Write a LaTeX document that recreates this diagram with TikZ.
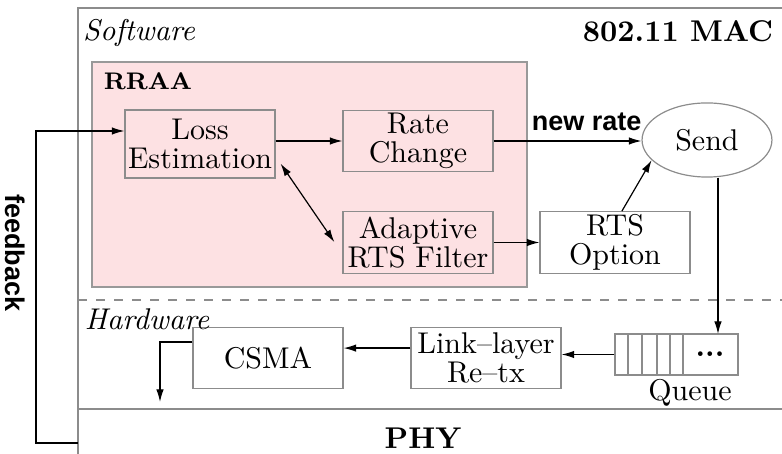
\documentclass[tikz,border=0pt]{standalone}
\usepackage{fontspec}
\newfontfamily\helv{Liberation Sans}
\usetikzlibrary{shapes.geometric,arrows.meta}
\definecolor{rraapink}{RGB}{253,225,227}

\begin{document}
\begin{tikzpicture}[x=0.3333pt,y=-0.3333pt,font=\fontsize{10}{9.5}\selectfont,
  >={Latex[length=4.2pt,width=2.5pt]},
  frame/.style={draw=black!45},
  blk/.style={frame,minimum width=50pt,minimum height=20.5pt,inner sep=0pt,align=center},
  sflbl/.style={font=\helv\bfseries\fontsize{9}{10}\selectfont}]
\useasboundingbox (0,0) rectangle (782,454);
\draw[frame] (782,8) -- (78,8) -- (78,454); \draw[frame] (78,409) -- (782,409);
\draw[frame,dashed] (78,300) -- (782,300);
\node[font=\itshape] (sw) at (139,33) {Software};
\node[font=\bfseries] (mac) at (678,31) {802.11 MAC};
\node[font=\bfseries] (phy) at (423,438) {PHY};
\filldraw[fill=rraapink,draw=black!40] (92,62) rectangle (527,287);
\node[font=\footnotesize\bfseries] (rraa) at (148,81) {RRAA};
\node[blk,minimum height=22.7pt] (loss) at (200,144) {Loss\\Estimation};
\node[blk] (rate) at (418,141) {Rate\\Change};
\node[blk] (adapt) at (418,242.5) {Adaptive\\RTS Filter};
\node[blk] (rts) at (615,242.5) {RTS\\Option};
\node[ellipse,frame,minimum width=43.3pt,minimum height=24.7pt,inner sep=0pt] (send) at (707,140) {Send};
\node[blk] (csma) at (268,358) {CSMA};
\node[blk] (link) at (486,358) {Link--layer\\Re--tx};
\node[frame,minimum width=41pt,minimum height=13.7pt,inner sep=0pt] (queue) at (676.5,354.5) {};
\foreach \x in {628,642,657,670,683}{\draw[frame] (\x,334) -- (\x,375);}
\node (dots) at (710,354) {\textbf{...}};
\node (qlbl) at (690,393) {Queue};
\node[font=\itshape] (hw) at (147,319) {Hardware};
\node[sflbl,rotate=-90] (fb) at (15,253) {feedback};
\coordinate (fbin) at (78,443); \coordinate (fbtop) at (36,131);
\coordinate (qin) at (718,334); \coordinate (phyin) at (160,402);
\draw[->] (fbin) -| (fbtop) -- (loss.west |- fbtop);
\draw[->] (loss.east |- rate.west) -- (rate.west);
\draw[->] (rate.east) -- (rate.east -| send.west) node[sflbl,pos=0.63,above=0pt] (nr) {new rate};
\draw[<->] ([shift={(5,-15)}]loss.south east) -- ([shift={(-8,31)}]adapt.north west);
\draw[->] (adapt) -- (rts);
\draw[->] ([xshift=2.3pt]rts.north) -- (send.200);
\draw[->] (send.south -| qin) -- (qin);
\draw[->] (queue.west) -- (queue.west -| link.east);
\draw[->] ([yshift=3.3pt]link.west) -- ([yshift=3.3pt]csma.east);
\draw[->] ([yshift=5.3pt]csma.west) -| (phyin);
\end{tikzpicture}
\end{document}
